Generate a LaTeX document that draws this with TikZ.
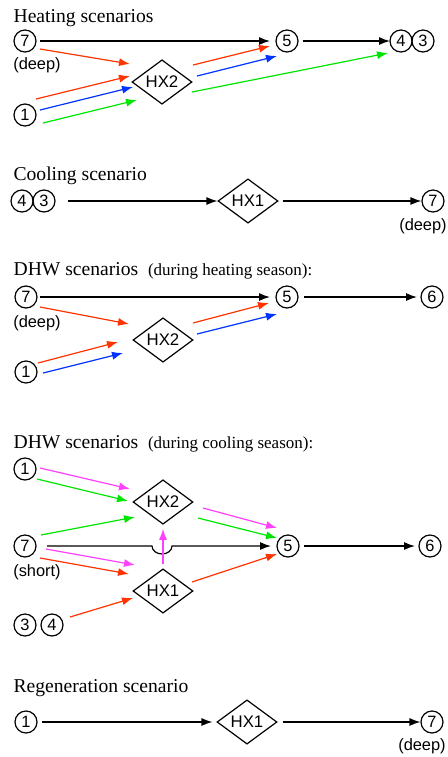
\documentclass[tikz,border=0pt]{standalone}
\usepackage{fontspec}
\setmainfont{Liberation Serif}
\setsansfont{Liberation Sans}
\usepackage{xcolor}
\usetikzlibrary{arrows.meta,shapes.geometric}

\definecolor{hxred}{RGB}{255,51,0}
\definecolor{hxblue}{RGB}{0,51,255}
\definecolor{hxgreen}{RGB}{0,230,0}
\definecolor{hxpink}{RGB}{255,64,255}

\tikzset{
  num/.style={draw, circle, inner sep=0pt, minimum size=11pt, font=\sffamily\fontsize{8.2}{9}\selectfont},
  hx/.style={draw, diamond, inner sep=0pt, minimum width=30pt, minimum height=21.5pt, font=\sffamily\fontsize{8.4}{9}\selectfont},
  ttl/.style={anchor=base west, inner sep=0pt, font=\fontsize{9.8}{12}\selectfont},
  note/.style={inner sep=0pt, font=\sffamily\fontsize{8.2}{9}\selectfont},
}

\begin{document}
\begin{tikzpicture}[x=0.5pt, y=-0.5pt, >={Latex[length=5.5pt,width=4pt]}, line width=0.6pt]
    \useasboundingbox (0,0) rectangle (447,757);

    % heating
    \node[ttl] (ttlA) at (13,22) {Heating scenarios};
    \node[num] (a7) at (25,41) {7};
    \node[note] (a7n) at (37,65) {(deep)};
    \node[num] (a1) at (25,115) {1};
    \node[hx] (ahx) at (162,82) {HX2};
    \node[num] (a5) at (287,41) {5};
    \node[num] (a4) at (401,41) {4};
    \node[num] (a3) at (423,41) {3};
    \draw[->] ([shift={(15,0)}]a7.center) -- ([shift={(-17,0)}]a5.center);
    \draw[->] ([shift={(16,0)}]a5.center) -- ([shift={(-11,0)}]a4.center);
    \draw[->, hxred] ([shift={(15,8)}]a7.center) -- ([shift={(-32,-18)}]ahx.center);
    \draw[->, hxred] ([shift={(11,-16)}]a1.center) -- ([shift={(-32,-6)}]ahx.center);
    \draw[->, hxblue] ([shift={(15,-5)}]a1.center) -- ([shift={(-29,5)}]ahx.center);
    \draw[->, hxgreen] ([shift={(18,8)}]a1.center) -- ([shift={(-25,18)}]ahx.center);
    \draw[->, hxred] ([shift={(31,-17)}]ahx.center) -- ([shift={(-17,5)}]a5.center);
    \draw[->, hxblue] ([shift={(35,-6)}]ahx.center) -- ([shift={(-10,15)}]a5.center);
    \draw[->, hxgreen] ([shift={(30,10)}]ahx.center) -- ([shift={(-13,12)}]a4.center);

    % cooling
    \node[ttl] (ttlB) at (13,180) {Cooling scenario};
    \node[num] (b4) at (22,201) {4};
    \node[num] (b3) at (44,201) {3};
    \node[hx] (bhx) at (248,201) {HX1};
    \node[num] (b7) at (433,201) {7};
    \node[note] (b7n) at (423,226) {(deep)};
    \draw[->] ([shift={(24,0)}]b3.center) -- (bhx.west);
    \draw[->] ([shift={(4,0)}]bhx.east) -- (b7.west);

    % DHW, heating season
    \node[ttl] (ttlC) at (13,275) {DHW scenarios\ \ {\fontsize{8.5}{10}\selectfont(during heating season):}};
    \node[num] (c7) at (26,297) {7};
    \node[note] (c7n) at (37,323) {(deep)};
    \node[num] (c1) at (26,372) {1};
    \node[hx] (chx) at (163,340) {HX2};
    \node[num] (c5) at (287,297) {5};
    \node[num] (c6) at (432,297) {6};
    \draw[->] ([shift={(14,0)}]c7.center) -- ([shift={(-17,0)}]c5.center);
    \draw[->] ([shift={(17,0)}]c5.center) -- ([shift={(-15,0)}]c6.center);
    \draw[->, hxred] ([shift={(14,10)}]c7.center) -- ([shift={(-34,-16)}]chx.center);
    \draw[->, hxred] ([shift={(12,-9)}]c1.center) -- ([shift={(-45,2)}]chx.center);
    \draw[->, hxblue] ([shift={(17,1)}]c1.center) -- ([shift={(-40,13)}]chx.center);
    \draw[->, hxred] ([shift={(30,-17)}]chx.center) -- ([shift={(-18,6)}]c5.center);
    \draw[->, hxblue] ([shift={(34,-6)}]chx.center) -- ([shift={(-10,17)}]c5.center);

    % DHW, cooling season
    \node[ttl] (ttlD) at (13,448) {DHW scenarios\ \ {\fontsize{8.5}{10}\selectfont(during cooling season):}};
    \node[num] (d1) at (25,469) {1};
    \node[hx] (dhx2) at (163,502) {HX2};
    \node[num] (d7) at (25,546) {7};
    \node[note] (d7n) at (37,572) {(short)};
    \node[num] (d5) at (288,546) {5};
    \node[num] (d6) at (430,546) {6};
    \node[hx] (dhx1) at (163,591) {HX1};
    \node[num] (d3) at (25,625) {3};
    \node[num] (d4) at (52,625) {4};
    \coordinate (jmp) at (152,546);
    \draw[->, hxpink] ([shift={(15,-1)}]d1.center) -- ([shift={(-33,-13)}]dhx2.center);
    \draw[->, hxgreen] ([shift={(12,10)}]d1.center) -- ([shift={(-35,-1)}]dhx2.center);
    \draw[->, hxgreen] ([shift={(16,-11)}]d7.center) -- ([shift={(-28,15)}]dhx2.center);
    \draw[->, hxpink] ([shift={(40,6)}]dhx2.center) -- ([shift={(-11,-18)}]d5.center);
    \draw[->, hxgreen] ([shift={(35,16)}]dhx2.center) -- ([shift={(-11,-8)}]d5.center);
    \draw[->] ([shift={(22,0)}]d7.center) -- (jmp) arc[start angle=180, end angle=0, x radius=10, y radius=8] -- ([shift={(-17,0)}]d5.center);
    \draw[->] ([shift={(16,0)}]d5.center) -- ([shift={(-15,0)}]d6.center);
    \draw[->, hxpink] ([shift={(21,3)}]d7.center) -- ([shift={(-28,-26)}]dhx1.center);
    \draw[->, hxred] ([shift={(15,12)}]d7.center) -- ([shift={(-34,-17)}]dhx1.center);
    \draw[->, hxred] ([shift={(18,-8)}]d4.center) -- ([shift={(-30,7)}]dhx1.center);
    \draw[->, hxred] ([shift={(29,-9)}]dhx1.center) -- ([shift={(-11,8)}]d5.center);
    \draw[->, hxpink] ([shift={(0,-4)}]dhx1.north) -- ([shift={(0,4)}]dhx2.south);

    % regeneration
    \node[ttl] (ttlE) at (13,692) {Regeneration scenario};
    \node[num] (e1) at (26,722) {1};
    \node[hx] (ehx) at (247,722) {HX1};
    \node[num] (e7) at (432,722) {7};
    \node[note] (e7n) at (422,746) {(deep)};
    \draw[->] ([shift={(16,0)}]e1.center) -- ([shift={(-4,0)}]ehx.west);
    \draw[->] ([shift={(5,0)}]ehx.east) -- (e7.west);
  \end{tikzpicture}
\end{document}
